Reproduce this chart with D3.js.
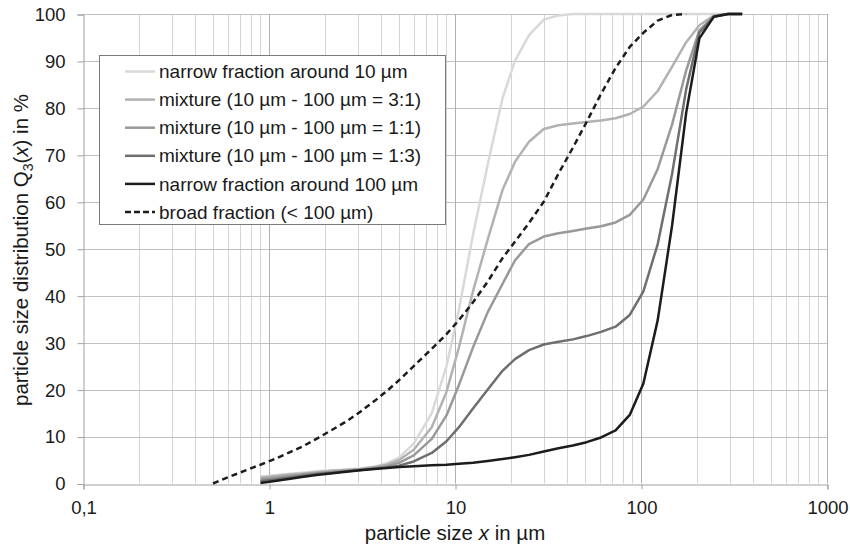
<!DOCTYPE html>
<html>
<head>
<meta charset="utf-8">
<script src="https://cdn.jsdelivr.net/npm/d3@7.9.0/dist/d3.min.js"></script>
<style>
  body { margin: 0; background: #fff; }
  svg { font-family: "Liberation Sans", Arial, sans-serif; }
</style>
</head>
<body>
<svg id="chart" width="850" height="547"></svg>
<script>
// particle size classes (µm) of the laser diffraction measurement
const sizes = [0.9, 1.1, 1.3, 1.5, 1.8, 2.2, 2.6, 3.1, 3.7, 4.3, 5.0, 6.0, 7.5, 9.0, 10.5, 12.5,
  15, 18, 21, 25, 30, 36, 43, 51, 61, 73, 87, 103, 123, 147, 175, 206, 246, 294, 350];

// Q3(x) in % for each class
const narrow10 = [1.5, 1.8, 2.1, 2.3, 2.6, 2.8, 3.0, 3.2, 3.6, 4.3, 5.5, 8.5, 15, 25, 37, 53,
  68, 82, 90, 95.5, 98.8, 99.7, 100, 100, 100, 100, 100, 100, 100, 100, 100, 100, 100, 100, 100];
const mix31 = [1.2, 1.6, 1.9, 2.1, 2.4, 2.7, 2.9, 3.1, 3.5, 4.0, 5.0, 7.2, 12, 19.5, 29, 41,
  52, 62.5, 68.5, 72.8, 75.5, 76.3, 76.7, 77.0, 77.3, 77.8, 78.7, 80.3, 83.6, 88.8, 94.0, 97.6, 99.7, 100, 100];
const mix11 = [0.9, 1.3, 1.6, 1.9, 2.2, 2.5, 2.7, 3.0, 3.3, 3.7, 4.4, 6.0, 9.5, 14.5, 21, 29,
  36.5, 42.5, 47.5, 51, 52.6, 53.3, 53.8, 54.3, 54.8, 55.6, 57.2, 60.5, 67, 76.5, 88, 96.5, 99.5, 100, 100];
const mix13 = [0.5, 0.9, 1.3, 1.6, 2.0, 2.3, 2.6, 2.9, 3.2, 3.4, 3.8, 4.7, 6.5, 9.0, 12, 16,
  20, 24, 26.5, 28.4, 29.6, 30.2, 30.7, 31.4, 32.3, 33.4, 35.9, 40.9, 51, 66, 84, 96, 99.4, 100, 100];
const narrow100 = [0.1, 0.6, 1.0, 1.4, 1.8, 2.2, 2.5, 2.8, 3.1, 3.3, 3.5, 3.7, 3.9, 4.0, 4.2, 4.4,
  4.8, 5.2, 5.6, 6.1, 6.8, 7.5, 8.1, 8.8, 9.8, 11.3, 14.6, 21.3, 34.8, 55, 79, 94.8, 99.4, 100, 100];

// broad fraction was measured on a shorter size range
const sizesBroad = [0.5, 0.6, 0.75, 0.9, 1.1, 1.3, 1.5, 1.8, 2.2, 2.6, 3.1, 3.7, 4.3, 5.0, 6.0, 7.5,
  9.0, 10.5, 12.5, 15, 18, 21, 25, 30, 36, 43, 51, 61, 73, 87, 103, 123, 147, 175];
const broad = [0, 1.3, 2.8, 4.0, 5.4, 6.7, 7.8, 9.5, 11.5, 13.2, 15.3, 17.6, 19.7, 22, 25, 28.7,
  31.8, 34.8, 38.6, 43, 48, 51.5, 55.5, 60, 66, 71.5, 77, 83, 88.5, 93, 96, 98.6, 99.8, 100];

const seriesNames = [
  "narrow fraction around 10 µm",
  "mixture (10 µm - 100 µm = 3:1)",
  "mixture (10 µm - 100 µm = 1:1)",
  "mixture (10 µm - 100 µm = 1:3)",
  "narrow fraction around 100 µm",
  "broad fraction (< 100 µm)"
];
const seriesColors = ["#d9d9d9", "#b2b2b2", "#999999", "#6f6f6f", "#1c1c1c", "#1c1c1c"];
const seriesDash = [null, null, null, null, null, "6,4"];

const xTicks = [0.1, 1, 10, 100, 1000];
const xTickLabels = ["0,1", "1", "10", "100", "1000"];
const yTicks = [0, 10, 20, 30, 40, 50, 60, 70, 80, 90, 100];

const series = [
  { x: sizes, y: narrow10 },
  { x: sizes, y: mix31 },
  { x: sizes, y: mix11 },
  { x: sizes, y: mix13 },
  { x: sizes, y: narrow100 },
  { x: sizesBroad, y: broad }
].map((s, i) => ({
  name: seriesNames[i],
  color: seriesColors[i],
  dash: seriesDash[i],
  points: s.x.map((v, j) => [v, s.y[j]])
}));

const svg = d3.select("#chart");

const x = d3.scaleLog().domain([0.1, 1000]).range([83, 827]);
const y = d3.scaleLinear().domain([0, 100]).range([483.5, 14]);

// vertical grid: minor lines inside each decade, then the decade lines
const minor = [];
[0.1, 1, 10, 100].forEach(d => { for (let k = 2; k <= 9; k++) minor.push(k * d); });

const grid = svg.append("g");
grid.selectAll(".vminor").data(minor).enter().append("line")
  .attr("x1", d => Math.round(x(d)) + 0.5).attr("x2", d => Math.round(x(d)) + 0.5)
  .attr("y1", y(100)).attr("y2", y(0))
  .attr("stroke", "#d4d4d4").attr("stroke-width", 1);
grid.selectAll(".hgrid").data(yTicks.slice(1)).enter().append("line")
  .attr("x1", x(0.1)).attr("x2", x(1000))
  .attr("y1", d => Math.round(y(d)) + 0.5).attr("y2", d => Math.round(y(d)) + 0.5)
  .attr("stroke", "#c0c0c0").attr("stroke-width", 1);
grid.selectAll(".vmajor").data(xTicks.slice(1)).enter().append("line")
  .attr("x1", d => Math.round(x(d)) + 0.5).attr("x2", d => Math.round(x(d)) + 0.5)
  .attr("y1", y(100)).attr("y2", y(0))
  .attr("stroke", "#b0b0b0").attr("stroke-width", 1);

// axes
const xAxis = svg.append("g")
  .attr("transform", `translate(0.5,${Math.round(y(0)) + 0.5})`)
  .call(d3.axisBottom(x).tickValues(xTicks).tickSize(5).tickPadding(11)
    .tickFormat((d, i) => xTickLabels[i]));
const yAxis = svg.append("g")
  .attr("transform", `translate(${Math.round(x(0.1)) + 0.5},0.5)`)
  .call(d3.axisLeft(y).tickValues(yTicks).tickSize(6).tickPadding(12));

[xAxis, yAxis].forEach(g => {
  g.select(".domain").attr("stroke", "#a0a0a0");
  g.selectAll(".tick line").attr("stroke", "#a0a0a0");
  g.selectAll(".tick text").attr("fill", "#1a1a1a")
    .style("font-size", "18.5px").style("font-family", "'Liberation Sans', Arial, sans-serif");
});

// curves
const line = d3.line().x(d => x(d[0])).y(d => y(d[1]));
svg.append("g").selectAll("path").data(series).enter().append("path")
  .attr("d", d => line(d.points))
  .attr("fill", "none")
  .attr("stroke", d => d.color)
  .attr("stroke-width", 2.5)
  .attr("stroke-linejoin", "round")
  .attr("stroke-dasharray", d => d.dash);

// legend
const legend = svg.append("g");
legend.append("rect")
  .attr("x", 99.5).attr("y", 55.5).attr("width", 346).attr("height", 169)
  .attr("fill", "#fff").attr("stroke", "#7a7a7a").attr("stroke-width", 1);
const rows = legend.selectAll(".row").data(series).enter().append("g")
  .attr("transform", (d, i) => `translate(0,${71.5 + i * 28.1})`);
rows.append("line")
  .attr("x1", 125).attr("x2", 155)
  .attr("stroke", d => d.color).attr("stroke-width", 2.5)
  .attr("stroke-dasharray", d => d.dash ? "6,3" : null);
rows.append("text")
  .attr("x", 159).attr("dy", "0.35em")
  .attr("fill", "#1a1a1a").style("font-size", "19px")
  .text(d => d.name);

// axis titles
const xTitle = svg.append("text")
  .attr("x", 455).attr("y", 540).attr("text-anchor", "middle")
  .attr("fill", "#1a1a1a").style("font-size", "20.5px");
xTitle.append("tspan").text("particle size ");
xTitle.append("tspan").style("font-style", "italic").text("x");
xTitle.append("tspan").text(" in µm");

const yTitle = svg.append("text")
  .attr("transform", "translate(28,250) rotate(-90)")
  .attr("text-anchor", "middle")
  .attr("fill", "#1a1a1a").style("font-size", "20.5px");
yTitle.append("tspan").text("particle size distribution Q");
yTitle.append("tspan").attr("dy", 5).style("font-size", "14px").text("3");
yTitle.append("tspan").attr("dy", -5).text("(");
yTitle.append("tspan").style("font-style", "italic").text("x");
yTitle.append("tspan").text(") in %");
</script>
</body>
</html>
